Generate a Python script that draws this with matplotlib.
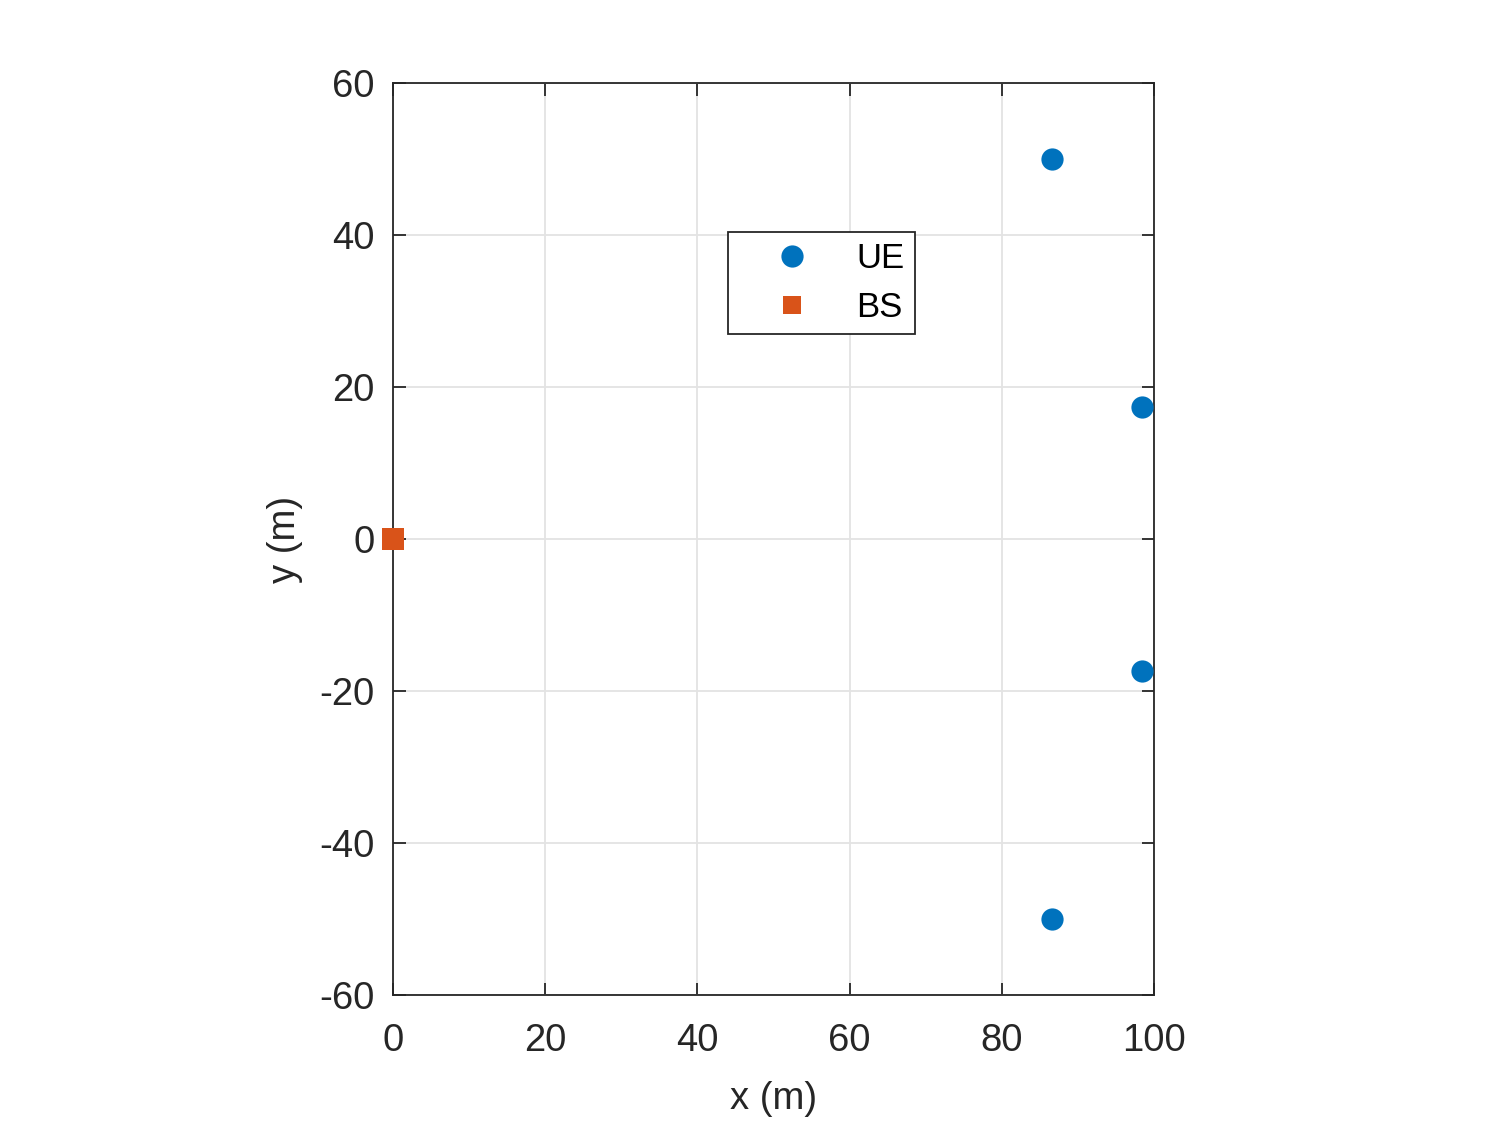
import matplotlib
matplotlib.use("Agg")
import matplotlib.pyplot as plt

ue_x = [86.6, 98.48, 98.48, 86.6]
ue_y = [50.0, 17.36, -17.36, -50.0]
bs_x = [0.0]
bs_y = [0.0]
xticks = [0, 20, 40, 60, 80, 100]
yticks = [-60, -40, -20, 0, 20, 40, 60]

plt.rcParams['font.family'] = ['Liberation Sans', 'DejaVu Sans']
fig = plt.figure(figsize=(14.95, 11.21), dpi=100)
ax = fig.add_axes([0.2629, 0.1124, 0.509, 0.8136])
ax.plot(ue_x, ue_y, 'o', color='#0072BD', markersize=16, label='UE', clip_on=False, zorder=5, markeredgewidth=0)
ax.plot(bs_x, bs_y, 's', color='#D95319', markersize=16, label='BS', clip_on=False, zorder=5, markeredgewidth=0)
ax.set_xlim(0, 100)
ax.set_ylim(-60, 60)
ax.set_xticks(xticks)
ax.set_yticks(yticks)
ax.set_xticklabels([str(v) for v in xticks])
ax.set_yticklabels([str(v) for v in yticks])
ax.grid(True, color='#e3e3e3', linewidth=1.3)
ax.set_axisbelow(True)
for s in ax.spines.values():
    s.set_color('#262626')
    s.set_linewidth(1.3)
ax.tick_params(direction='in', top=True, right=True, length=9, width=1.3,
               color='#262626', labelcolor='#262626', labelsize=27.5)
ax.tick_params(axis='x', pad=20)
ax.tick_params(axis='y', pad=13)
ax.set_xlabel('x (m)', fontsize=27.5, color='#262626', labelpad=16)
ax.set_ylabel('y (m)', fontsize=27.5, color='#262626', labelpad=12)
leg = ax.legend(loc='upper left', bbox_to_anchor=(0.44, 0.837), fontsize=25,
                frameon=True, fancybox=False, edgecolor='#262626', framealpha=1,
                markerscale=1.0, handletextpad=0.3, borderpad=0.3, labelspacing=0.45,
                handlelength=3.1, borderaxespad=0)
leg.get_frame().set_linewidth(1.3)
leg.legend_handles[1].set_markersize(13)
fig.savefig('out.png', dpi=100)
